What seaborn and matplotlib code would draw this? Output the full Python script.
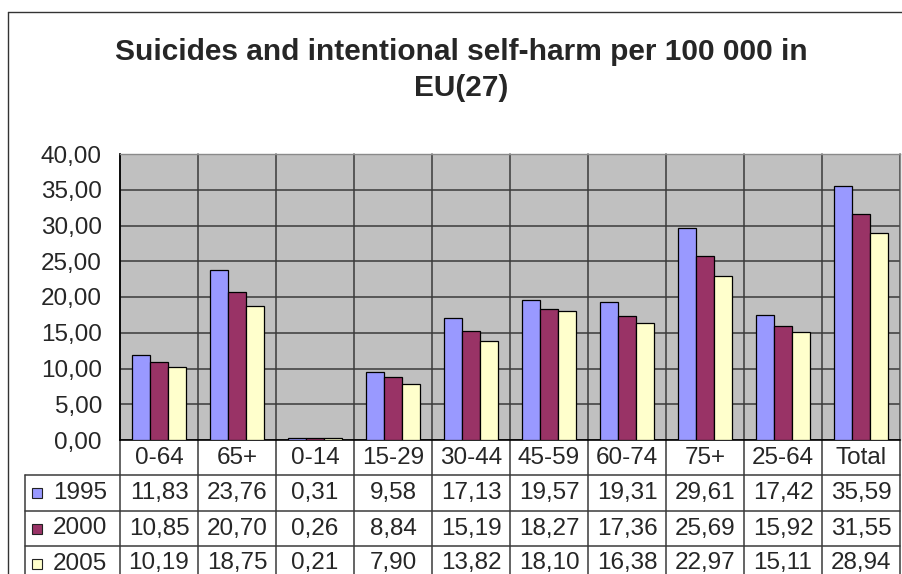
import numpy as np
import pandas as pd
import matplotlib
matplotlib.use("Agg")
import matplotlib.pyplot as plt
import matplotlib.transforms as mtransforms
from matplotlib.patches import Rectangle
import seaborn as sns

groups = ['0-64', '65+', '0-14', '15-29', '30-44', '45-59', '60-74', '75+', '25-64', 'Total']
years = ['1995', '2000', '2005']
v1995 = [11.83, 23.76, 0.31, 9.58, 17.13, 19.57, 19.31, 29.61, 17.42, 35.59]
v2000 = [10.85, 20.70, 0.26, 8.84, 15.19, 18.27, 17.36, 25.69, 15.92, 31.55]
v2005 = [10.19, 18.75, 0.21, 7.90, 13.82, 18.10, 16.38, 22.97, 15.11, 28.94]
colors = ['#9999FF', '#993366', '#FFFFCC']

df = pd.DataFrame({
    'group': groups * 3,
    'year': [y for y in years for _ in groups],
    'value': v1995 + v2000 + v2005,
})

def fmt(v):
    return f'{v:.2f}'.replace('.', ',')

sns.set_style('white')
plt.rcParams['font.family'] = ['Liberation Sans', 'DejaVu Sans']

W, H = 903, 574
fig = plt.figure(figsize=(W / 100, H / 100), dpi=100)

# plot area in pixels: x 120..900, y 154..440
px_l, px_r, px_t, px_b = 120, 900, 154, 440
ax = fig.add_axes([px_l / W, 1 - px_b / H, (px_r - px_l) / W, (px_b - px_t) / H])

sns.barplot(data=df, x='group', y='value', hue='year', order=groups,
            hue_order=years, palette=colors, width=0.68, edgecolor='black',
            linewidth=0.9, saturation=1, legend=False, ax=ax, zorder=3)

ax.set_facecolor('#C0C0C0')
ax.set_xlim(-0.5, len(groups) - 0.5)
ax.set_ylim(0, 40)
ticks = np.arange(0, 45, 5)
tsize = 17.5
ax.set_yticks(ticks)
ax.set_yticklabels([fmt(t) for t in ticks], fontsize=tsize)
ax.tick_params(axis='y', direction='out', length=6, width=1, color='black', pad=7)
ax.set_xticks([])
ax.set_xlabel('')
ax.set_ylabel('')
ax.yaxis.grid(True, color='#3a3a3a', linewidth=1.1, zorder=1)
ax.set_axisbelow(True)

for side in ['top', 'right']:
    ax.spines[side].set_color('#8a8a8a')
    ax.spines[side].set_linewidth(1)
for side in ['left', 'bottom']:
    ax.spines[side].set_color('black')
    ax.spines[side].set_linewidth(1.2)

# data table below the plot
axh = px_b - px_t
def yf(ypx):
    return (px_b - ypx) / axh

blend = mtransforms.blended_transform_factory(ax.transData, ax.transAxes)
line_kw = dict(color='#3a3a3a', linewidth=1.1, clip_on=False)

row_lines = [475, 511, 546]
bottom_px = 590
for b in np.arange(-0.5, len(groups)):
    ax.plot([b, b], [yf(px_t), yf(bottom_px)], transform=blend, **line_kw)

# horizontal table lines, extended to the left border at x=25px
for ypx in row_lines:
    fig.add_artist(plt.Line2D([25 / W, px_r / W], [1 - ypx / H, 1 - ypx / H],
                              transform=fig.transFigure, color='#3a3a3a', linewidth=1.1))
fig.add_artist(plt.Line2D([25 / W, 25 / W], [1 - 475 / H, 0],
                          transform=fig.transFigure, color='#3a3a3a', linewidth=1.1))

header_y = (440 + 475) / 2
for i, g in enumerate(groups):
    ax.text(i, yf(header_y), g, transform=blend, ha='center', va='center',
            fontsize=tsize, clip_on=False)

row_centers = [(475 + 511) / 2, (511 + 546) / 2, (546 + 581) / 2]
for vals, yc in zip([v1995, v2000, v2005], row_centers):
    for i, v in enumerate(vals):
        ax.text(i, yf(yc), fmt(v), transform=blend, ha='center', va='center',
                fontsize=tsize, clip_on=False)

for yr, col, yc in zip(years, colors, row_centers):
    fig.add_artist(Rectangle((32 / W, 1 - (yc + 5) / H), 10 / W, 10 / H,
                             transform=fig.transFigure, facecolor=col,
                             edgecolor='#222222', linewidth=0.8))
    fig.text(53 / W, 1 - yc / H, yr, ha='left', va='center', fontsize=tsize)

# outer chart border
fig.add_artist(plt.Line2D([8 / W, 1], [1 - 12 / H, 1 - 12 / H],
                          transform=fig.transFigure, color='#333333', linewidth=1))
fig.add_artist(plt.Line2D([8 / W, 8 / W], [1 - 12 / H, 0],
                          transform=fig.transFigure, color='#333333', linewidth=1))

fig.text(461 / W, 1 - 52 / H, 'Suicides and intentional self-harm per 100 000 in',
         ha='center', va='center', fontsize=21.5, fontweight='bold')
fig.text(461 / W, 1 - 88 / H, 'EU(27)',
         ha='center', va='center', fontsize=21.5, fontweight='bold')

fig.savefig('out.png', dpi=100, facecolor='white')
